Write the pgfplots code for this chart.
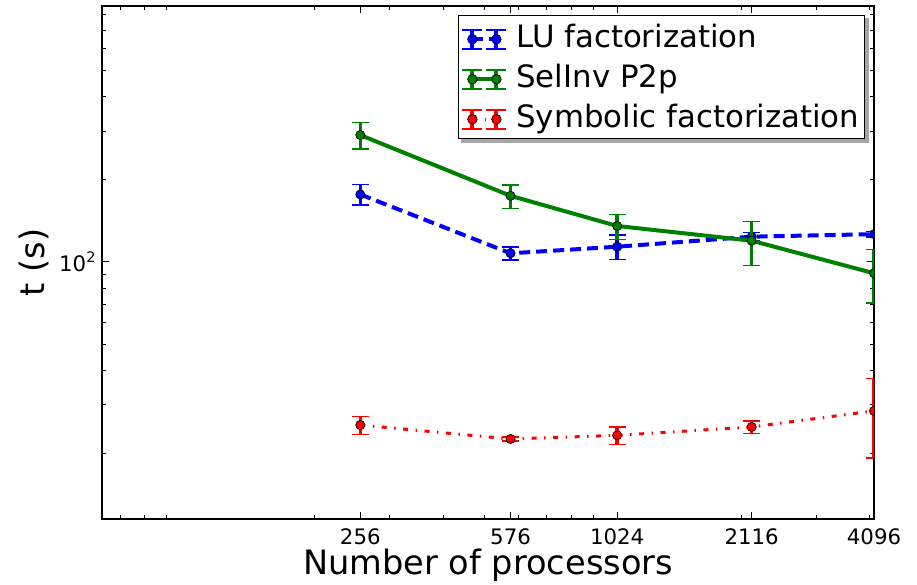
\documentclass[border=0pt]{standalone}
\usepackage{pgfplots}
\pgfplotsset{compat=1.18}
\usepackage{pgfplotstable}
\usepackage{fontspec}
\setmainfont{DejaVu Sans}
\pgfdeclarelayer{background}
\pgfsetlayers{background,main}

\definecolor{mplgreen}{rgb}{0,0.5,0}

\pgfplotstableread{
x y ep em
256 176 15.8 15
576 107.3 5.7 5.9
1024 113.4 11.6 11.4
2116 123.4 4.6 4.4
4096 126 3 3
}\lu
\pgfplotstableread{
x y ep em
256 290 33 32
576 174 16.6 17.4
1024 135 14 14.3
2116 119.3 20.7 22.6
4096 90.7 20.3 20.2
}\selinv
\pgfplotstableread{
x y ep em
256 25.3 1.9 1.9
576 22.5 0.4 0.4
1024 23.2 1.7 1.7
2116 24.9 1.3 1.3
4096 28.5 9 9.3
}\symb

\newcommand{\ebimg}[2]{%
  \pgfpathrectangle{\pgfpoint{-11pt}{-12pt}}{\pgfpoint{53pt}{20pt}}\pgfusepath{discard}%
  \draw[#1,mark=none,fill=none] (0pt,-2pt) -- (24pt,-2pt);
  \draw[#2,solid,line width=4pt,fill=none] (0pt,-11.5pt) -- (0pt,7.5pt) (24pt,-11.5pt) -- (24pt,7.5pt);
  \draw[#2,solid,line width=2pt,fill=none] (-10pt,-11.5pt) -- (10pt,-11.5pt) (-10pt,7.5pt) -- (10pt,7.5pt)
     (14pt,-11.5pt) -- (34pt,-11.5pt) (14pt,7.5pt) -- (34pt,7.5pt);
  \filldraw[fill=#2,draw=black,solid,line width=0.7pt] (0pt,-2pt) circle (4.8pt) (24pt,-2pt) circle (4.8pt);
}
\pgfplotsset{
  luleg/.style={legend image code/.code={\ebimg{##1}{blue}}},
  selleg/.style={legend image code/.code={\ebimg{##1}{mplgreen}}},
  symleg/.style={legend image code/.code={\ebimg{##1}{red}}},
}

\begin{document}
\begin{tikzpicture}
\path[use as bounding box] (-102pt,-65pt) rectangle (815pt,519pt);
\begin{axis}[
  at={(0pt,0pt)}, anchor=south west,
  scale only axis, width=772pt, height=513pt,
  xmode=log, ymode=log,
  xmin=63.5, xmax=4096, ymin=11.48, ymax=859,
  axis line style={line width=1.5pt},
  tick align=inside,
  major tick length=7pt, minor tick length=4pt,
  every tick/.style={black, line width=0.9pt},
  xtick={256,576,1024,2116,4096},
  xticklabels={256,576,1024,2116,4096},
  minor xtick={70,80,90,200,300,400,500,600,700,800,900,2000,3000,4000},
  ytick={100},
  yticklabels={10\raisebox{0.45em}{\fontsize{14.5}{14.5}\selectfont 2}},
  minor ytick={20,30,40,50,60,70,80,90,200,300,400,500,600,700,800},
  ticklabel style={font=\fontsize{21.3}{25}\selectfont},
  xticklabel style={yshift=-6pt},
  yticklabel style={xshift=-3pt},
  xlabel={Number of processors},
  ylabel={t (s)},
  label style={font=\fontsize{33.6}{40}\selectfont},
  xlabel style={at={(axis description cs:0.5,-0.0897)}, anchor=center},
  ylabel style={at={(axis description cs:-0.0881,0.5)}, anchor=center},
  clip marker paths=true,
  legend cell align=left,
  legend style={name=leg, at={(axis description cs:1,1)}, anchor=north east,
    xshift=-9pt, yshift=-9pt, draw=black, line width=1.5pt, fill=white,
    font=\fontsize{30.8}{36}\selectfont, row sep=5pt,
    nodes={text height=26pt, text depth=5pt, inner sep=2pt},
    inner xsep=3pt, inner ysep=4pt},
  error bars/y dir=both, error bars/y explicit,
  error bars/error bar style={line width=3.5pt, solid},
  error bars/error mark options={rotate=90, mark size=8.5pt, line width=1.5pt, solid},
]
\addplot[blue, line width=4pt, dash pattern=on 11pt off 6pt,
  mark=*, mark size=4.6pt, mark options={solid, fill=blue, draw=black, line width=0.7pt},
  luleg]
  table[x=x, y=y, y error plus=ep, y error minus=em] {\lu};
\addlegendentry{LU factorization}
\addplot[mplgreen, line width=4pt,
  mark=*, mark size=4.6pt, mark options={solid, fill=mplgreen, draw=black, line width=0.7pt},
  selleg]
  table[x=x, y=y, y error plus=ep, y error minus=em] {\selinv};
\addlegendentry{SelInv P2p}
\addplot[red, line width=3pt, dash pattern=on 5pt off 7.5pt on 1.5pt off 7.5pt,
  mark=*, mark size=4.6pt, mark options={solid, fill=red, draw=black, line width=0.7pt},
  symleg]
  table[x=x, y=y, y error plus=ep, y error minus=em] {\symb};
\addlegendentry{Symbolic factorization}
\end{axis}
\begin{pgfonlayer}{background}
\fill[black!35] ([shift={(3.5pt,-3.5pt)}]leg.south west) rectangle ([shift={(3.5pt,-3.5pt)}]leg.north east);
\end{pgfonlayer}
\end{tikzpicture}
\end{document}
